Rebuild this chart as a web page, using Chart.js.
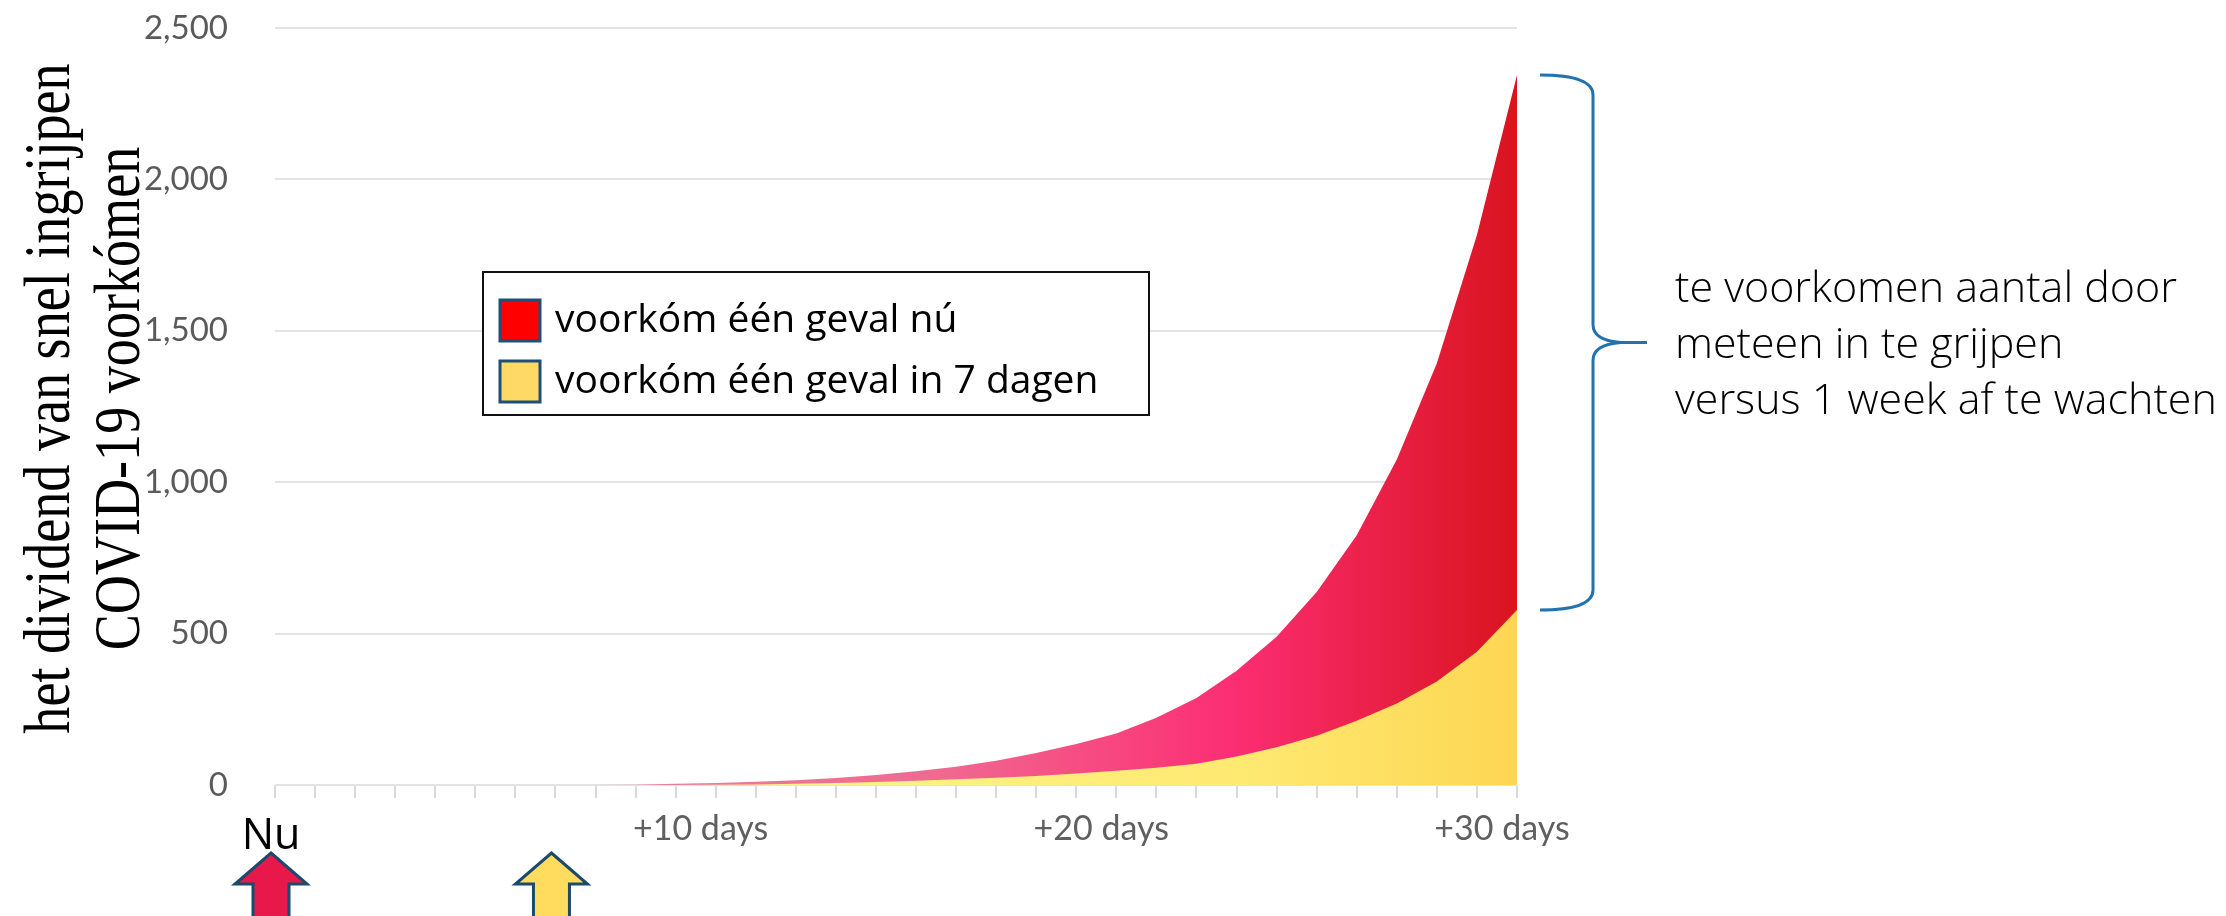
<!DOCTYPE html>
<html>
<head>
<meta charset="utf-8">
<script src="https://cdn.jsdelivr.net/npm/chart.js@4.4.1/dist/chart.umd.min.js"></script>
<style>
  html, body { margin: 0; padding: 0; background: #fff; }
  #wrap { position: relative; width: 2226px; height: 916px; }
</style>
</head>
<body>
<div id="wrap"><canvas id="dividendChart"></canvas></div>
<script>
// --- Data ---
const days = [0, 1, 2, 3, 4, 5, 6, 7, 8, 9, 10, 11, 12, 13, 14, 15,
              16, 17, 18, 19, 20, 21, 22, 23, 24, 25, 26, 27, 28, 29, 30, 31];
// voorkóm één geval nú
const nuValues = [0, 0, 0, 0, 0, 0, 0, 0, 0, 1, 4, 7, 11, 16, 23, 33,
                  45, 60, 80, 106, 135, 170, 222, 287, 377, 490, 637, 825, 1075, 1393, 1816, 2345];
// voorkóm één geval in 7 dagen
const zevenDagenValues = [0, 0, 0, 0, 0, 0, 0, 0, 0, 0, 0, 1, 2, 4, 7, 10,
                          14, 19, 24, 30, 38, 47, 57, 70, 94, 125, 163, 212, 269, 342, 440, 578];
const xTickLabels = { 10: '+10 days', 20: '+20 days', 30: '+30 days' };
const seriesLabels = ['voorkóm één geval nú', 'voorkóm één geval in 7 dagen'];
const legendColors = ['#ff0000', '#ffd966'];
const arrowDays = [0, 7];
const arrowColors = ['#e8194a', '#ffdb5e'];
const yTitle = ['het dividend van snel ingrijpen', 'COVID-19 voorkómen'];
const braceText = ['te voorkomen aantal door', 'meteen in te grijpen', 'versus 1 week af te wachten'];

// horizontaal kleurverloop over het grafiekvlak
function areaGradient(stops) {
    return (context) => {
        const chart = context.chart;
        const ca = chart.chartArea;
        if (!ca) return stops[stops.length - 1][1];
        const g = chart.ctx.createLinearGradient(ca.left, 0, ca.right, 0);
        stops.forEach(([p, c]) => g.addColorStop(p, c));
        return g;
    };
}

function drawArrow(ctx, cx, color) {
    const tip = 853, base = 884, head = 36, shaft = 18, end = 930;
    ctx.beginPath();
    ctx.moveTo(cx, tip);
    ctx.lineTo(cx + head, base);
    ctx.lineTo(cx + shaft, base);
    ctx.lineTo(cx + shaft, end);
    ctx.lineTo(cx - shaft, end);
    ctx.lineTo(cx - shaft, base);
    ctx.lineTo(cx - head, base);
    ctx.closePath();
    ctx.fillStyle = color;
    ctx.fill();
    ctx.lineWidth = 3;
    ctx.strokeStyle = '#1b4a6b';
    ctx.stroke();
}

// --- As-titel, legenda, pijlen, accolade en tekst ---
const overlayPlugin = {
    id: 'overlay',
    afterDraw(chart) {
        const { ctx, chartArea } = chart;
        const xs = chart.scales.x, ys = chart.scales.y;
        ctx.save();

        // y-as titel (smal serif lettertype)
        ctx.save();
        ctx.translate(52, (chartArea.top + chartArea.bottom) / 2 - 8);
        ctx.rotate(-Math.PI / 2);
        ctx.scale(0.82, 1);
        ctx.fillStyle = '#000';
        ctx.font = '66px "Liberation Serif", serif';
        ctx.textAlign = 'center';
        ctx.textBaseline = 'middle';
        yTitle.forEach((t, i) => ctx.fillText(t, 0, i * 70));
        ctx.restore();

        // legenda
        ctx.fillStyle = '#fff';
        ctx.fillRect(483, 272, 666, 143);
        ctx.lineWidth = 2;
        ctx.strokeStyle = '#111';
        ctx.strokeRect(483, 272, 666, 143);
        ctx.font = '39px "Open Sans", sans-serif';
        ctx.textBaseline = 'middle';
        ctx.textAlign = 'left';
        seriesLabels.forEach((label, i) => {
            const cy = 320 + i * 61;
            ctx.fillStyle = legendColors[i];
            ctx.fillRect(500, cy - 20, 40, 41);
            ctx.lineWidth = 3;
            ctx.strokeStyle = '#1f4e79';
            ctx.strokeRect(500, cy - 20, 40, 41);
            ctx.fillStyle = '#000';
            ctx.fillText(label, 555, cy + 1);
        });

        // "Nu" en pijlen
        ctx.fillStyle = '#000';
        ctx.font = '43px "Open Sans", sans-serif';
        ctx.textAlign = 'center';
        ctx.textBaseline = 'alphabetic';
        ctx.fillText('Nu', xs.getPixelForValue(arrowDays[0]) - 4, 849);
        arrowDays.forEach((d, i) => drawArrow(ctx, xs.getPixelForValue(d) - 4, arrowColors[i]));

        // accolade
        const last = days.length - 1;
        const top = ys.getPixelForValue(nuValues[last]);
        const bottom = ys.getPixelForValue(zevenDagenValues[last]);
        const mid = (top + bottom) / 2;
        const x0 = chartArea.right + 23, xv = chartArea.right + 76, xt = chartArea.right + 130;
        ctx.beginPath();
        ctx.moveTo(x0, top);
        ctx.quadraticCurveTo(xv, top, xv, top + 20);
        ctx.lineTo(xv, mid - 18);
        ctx.quadraticCurveTo(xv, mid - 2, xv + 28, mid);
        ctx.lineTo(xt, mid);
        ctx.moveTo(xv + 28, mid);
        ctx.quadraticCurveTo(xv, mid + 2, xv, mid + 18);
        ctx.lineTo(xv, bottom - 20);
        ctx.quadraticCurveTo(xv, bottom, x0, bottom);
        ctx.lineWidth = 3;
        ctx.strokeStyle = '#2271b1';
        ctx.stroke();

        ctx.fillStyle = '#000';
        ctx.font = '300 43px "Open Sans", sans-serif';
        ctx.textAlign = 'left';
        ctx.textBaseline = 'middle';
        braceText.forEach((t, i) => ctx.fillText(t, chartArea.right + 158, mid + 3 + (i - 1) * 56));

        ctx.restore();
    }
};

const ctx = document.getElementById('dividendChart').getContext('2d');
new Chart(ctx, {
    type: 'line',
    data: {
        datasets: [
            {
                label: seriesLabels[1],
                data: days.map((d, i) => ({ x: d, y: zevenDagenValues[i] })),
                fill: 'origin',
                backgroundColor: areaGradient([[0, '#fff6a8'], [0.5, '#fef083'], [0.77, '#feea72'], [1, '#fdd653']]),
                borderWidth: 0,
                pointRadius: 0,
                tension: 0
            },
            {
                label: seriesLabels[0],
                data: days.map((d, i) => ({ x: d, y: nuValues[i] })),
                fill: 'origin',
                backgroundColor: areaGradient([[0, '#e88aa4'], [0.29, '#e8809c'], [0.54, '#f06890'], [0.77, '#fc2e74'], [1, '#d9141e']]),
                borderWidth: 0,
                pointRadius: 0,
                tension: 0
            }
        ]
    },
    options: {
        responsive: true,
        maintainAspectRatio: false,
        animation: false,
        layout: { padding: { top: 28, right: 709, left: 0, bottom: 0 } },
        plugins: {
            legend: { display: false },
            tooltip: { enabled: false }
        },
        scales: {
            x: {
                type: 'linear',
                min: 0,
                max: 31,
                border: { display: false },
                grid: { drawOnChartArea: false, drawTicks: true, tickLength: 13, color: '#d9d9d9', lineWidth: 2 },
                ticks: {
                    stepSize: 1,
                    autoSkip: false,
                    maxRotation: 0,
                    padding: 11,
                    labelOffset: 25,
                    color: '#5f5f5f',
                    font: { family: 'Lato', size: 34 },
                    callback: (v) => xTickLabels[v] || ''
                },
                afterFit: (scale) => { scale.height = 131; }
            },
            y: {
                min: 0,
                max: 2500,
                border: { display: false },
                grid: { drawTicks: false, color: '#e3e3e3', lineWidth: 2 },
                ticks: {
                    stepSize: 500,
                    padding: 47,
                    color: '#5a5a5a',
                    font: { family: 'Lato', size: 33 },
                    callback: (v) => v.toLocaleString('en-US')
                },
                afterFit: (scale) => {
                    scale.width = 275;
                    scale.paddingTop = 20;
                    scale.paddingBottom = 20;
                }
            }
        }
    },
    plugins: [overlayPlugin]
});
</script>
</body>
</html>
